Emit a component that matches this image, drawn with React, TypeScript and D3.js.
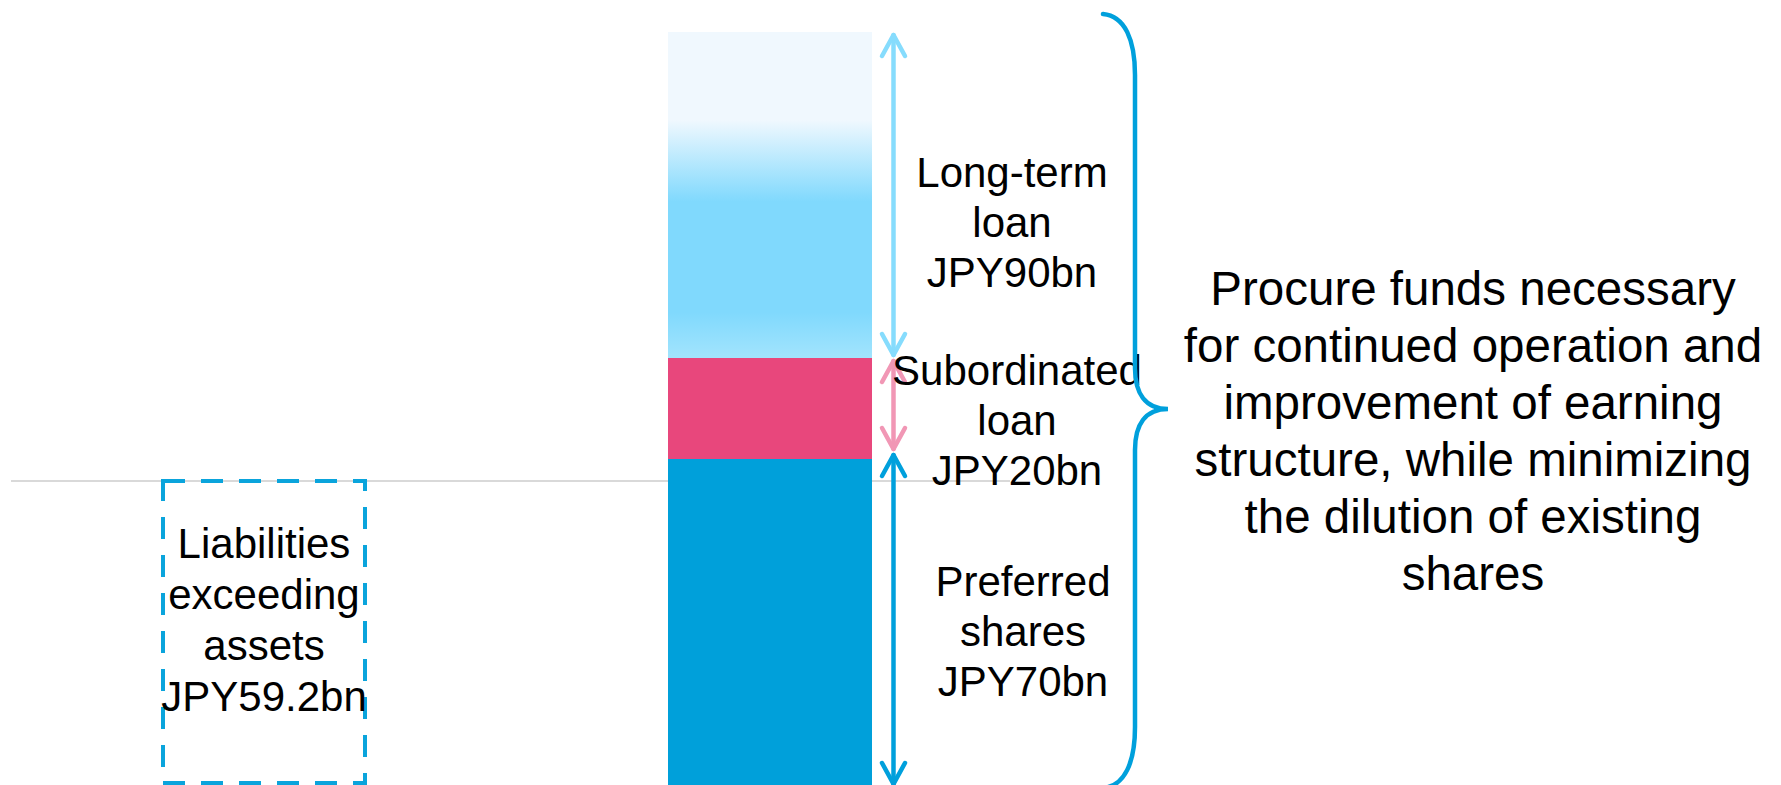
import React from "react";
import * as d3 from "d3";

const WIDTH = 1781;
const HEIGHT = 785;

// funding stack, bottom to top (JPY bn)
const segmentNames = ["Preferred shares", "Subordinated loan", "Long-term loan"];
const segmentValues = [70, 20, 90];
const segmentLabels = [
  ["Preferred", "shares", "JPY70bn"],
  ["Subordinated", "loan", "JPY20bn"],
  ["Long-term", "loan", "JPY90bn"],
];

const liabilityValue = 59.2;
const liabilityLabel = ["Liabilities", "exceeding", "assets", "JPY59.2bn"];

const purposeLines = [
  "Procure funds necessary",
  "for continued operation and",
  "improvement of earning",
  "structure, while minimizing",
  "the dilution of existing",
  "shares",
];

// layout
const FONT = "'Liberation Sans', Arial, sans-serif";
const BAR_X = [668, 872];
const STACK_EDGES = [787, 459, 358, 32]; // the diagram is not drawn to scale
const ARROW_EDGES = [787, 452, 358, 32];
const ARROW_X = 893.5;
const ZERO_Y = 481;
const BOX_X = [163, 365];
const BOX_BOTTOM = 783;
const LABEL_X = [1023, 1017, 1012];
const LABEL_NUDGE = [23, 26, 42];
const BRACE_X = 1135;

const fills = ["#00a0da", "#e8477c", "url(#ltGrad)"];
const arrowColors = ["#00a0dc", "#f197b5", "#86dcfd"];

function Arrow({ x, y1, y2, color }) {
  const hw = 11.5;
  const hl = 21;
  return (
    <g stroke={color} strokeWidth={4.5} fill="none" strokeLinecap="round" strokeLinejoin="round">
      <line x1={x} x2={x} y1={y1} y2={y2} />
      <path d={`M${x - hw},${y1 + hl} L${x},${y1} L${x + hw},${y1 + hl}`} />
      <path d={`M${x - hw},${y2 - hl} L${x},${y2} L${x + hw},${y2 - hl}`} />
    </g>
  );
}

export default function App() {
  const cum = [0, ...Array.from(d3.cumsum(segmentValues))];
  const y = d3.scaleLinear().domain(cum).range(STACK_EDGES);
  const yArrow = d3.scaleLinear().domain(cum).range(ARROW_EDGES);
  const yLiab = d3.scaleLinear().domain([0, liabilityValue]).range([BOX_BOTTOM, ZERO_Y]);

  const top = y(cum[cum.length - 1]);
  const bottom = y(0);
  const tipY = (top + bottom) / 2 - 0.5;

  // curly brace spanning the whole stack
  const brace = d3.path();
  brace.moveTo(BRACE_X - 32, top - 18);
  brace.bezierCurveTo(BRACE_X - 10, top - 16, BRACE_X, top + 8, BRACE_X, top + 43);
  brace.lineTo(BRACE_X, tipY - 41);
  brace.bezierCurveTo(BRACE_X, tipY - 16, BRACE_X + 10, tipY, BRACE_X + 33, tipY);
  brace.bezierCurveTo(BRACE_X + 10, tipY, BRACE_X, tipY + 16, BRACE_X, tipY + 41);
  brace.lineTo(BRACE_X, bottom - 60);
  brace.bezierCurveTo(BRACE_X, bottom - 25, BRACE_X - 10, bottom - 1, BRACE_X - 32, bottom + 1);

  return (
    <svg
      width={WIDTH}
      height={HEIGHT}
      style={{ position: "absolute", left: 0, top: 0, background: "#fff" }}
      fontFamily={FONT}
    >
      <defs>
        <linearGradient id="ltGrad" x1="0" x2="0" y1="0" y2="1">
          <stop offset="0" stopColor="#f0f8fe" />
          <stop offset="0.27" stopColor="#f0f8fe" />
          <stop offset="0.52" stopColor="#80d9fd" />
          <stop offset="0.86" stopColor="#80d9fd" />
          <stop offset="1" stopColor="#a2e4fd" />
        </linearGradient>
      </defs>

      {/* net assets zero line */}
      <line x1={11} x2={1010} y1={ZERO_Y} y2={ZERO_Y} stroke="#d9d9d9" strokeWidth={2} />

      {/* stacked funding bar */}
      {segmentNames.map((name, i) => (
        <rect
          key={name}
          x={BAR_X[0]}
          width={BAR_X[1] - BAR_X[0]}
          y={y(cum[i + 1])}
          height={y(cum[i]) - y(cum[i + 1])}
          fill={fills[i]}
        />
      ))}

      {segmentNames.map((name, i) => (
        <Arrow
          key={name}
          x={ARROW_X}
          y1={yArrow(cum[i + 1]) + 3}
          y2={yArrow(cum[i]) - 3}
          color={arrowColors[i]}
        />
      ))}

      {segmentLabels.map((lines, i) => {
        const mid = (y(cum[i]) + y(cum[i + 1])) / 2 + LABEL_NUDGE[i];
        return (
          <text key={i} x={LABEL_X[i]} textAnchor="middle" fontSize={42} fill="#000">
            {lines.map((t, j) => (
              <tspan key={j} x={LABEL_X[i]} y={mid + (j - 1) * 50}>
                {t}
              </tspan>
            ))}
          </text>
        );
      })}

      {/* liabilities exceeding assets */}
      <rect
        x={BOX_X[0]}
        width={BOX_X[1] - BOX_X[0]}
        y={yLiab(liabilityValue)}
        height={yLiab(0) - yLiab(liabilityValue)}
        fill="none"
        stroke="#0aa4dc"
        strokeWidth={4}
        strokeDasharray="22 16"
      />
      <text x={(BOX_X[0] + BOX_X[1]) / 2} textAnchor="middle" fontSize={42} fill="#000">
        {liabilityLabel.map((t, j) => (
          <tspan key={j} x={(BOX_X[0] + BOX_X[1]) / 2} y={558 + j * 51}>
            {t}
          </tspan>
        ))}
      </text>

      <path d={brace.toString()} fill="none" stroke="#00a0dc" strokeWidth={4.5} strokeLinecap="round" />

      <text x={1473} textAnchor="middle" fontSize={47.5} fill="#000">
        {purposeLines.map((t, j) => (
          <tspan key={j} x={1473} y={305 + j * 57}>
            {t}
          </tspan>
        ))}
      </text>
    </svg>
  );
}
